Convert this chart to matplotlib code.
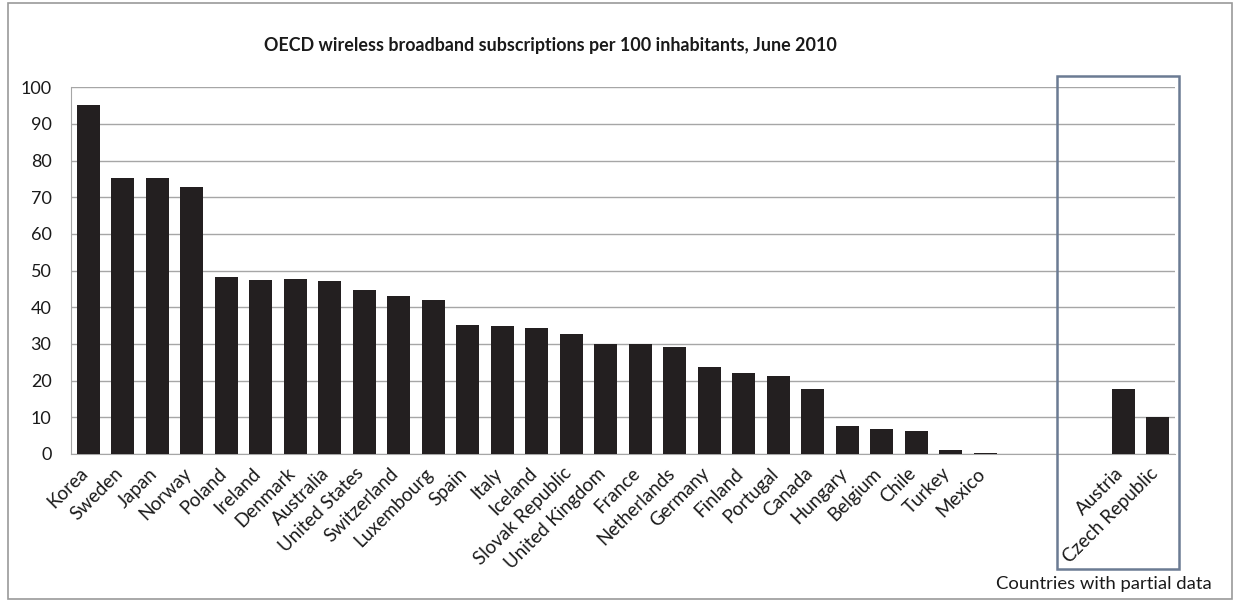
import matplotlib.pyplot as plt
from matplotlib.patches import Rectangle
from matplotlib.transforms import ScaledTranslation

plt.rcParams['font.family'] = ['Lato', 'DejaVu Sans']

# данные (на 100 жителей, июнь 2010)
countries = ['Korea', 'Sweden', 'Japan', 'Norway', 'Poland', 'Ireland', 'Denmark',
             'Australia', 'United States', 'Switzerland', 'Luxembourg', 'Spain',
             'Italy', 'Iceland', 'Slovak Republic', 'United Kingdom', 'France',
             'Netherlands', 'Germany', 'Finland', 'Portugal', 'Canada', 'Hungary',
             'Belgium', 'Chile', 'Turkey', 'Mexico']
values = [95.3, 75.3, 75.3, 72.9, 48.4, 47.5, 47.8, 47.2, 44.6, 43.2, 42.1, 35.3,
          34.8, 34.3, 32.8, 29.9, 29.9, 29.1, 23.8, 22.2, 21.3, 17.6, 7.6,
          6.8, 6.3, 1.1, 0.3]
partial = ['Austria', 'Czech Republic']
partial_values = [17.6, 10.0]
yticks = list(range(0, 101, 10))

W, H = 1238, 603
fig = plt.figure(figsize=(W / 100, H / 100), dpi=100)
ax = fig.add_axes([71 / W, 1 - 454 / H, (1175 - 71) / W, (454 - 87.3) / H])

n_gap = 3
x_main = list(range(len(countries)))
x_part = [len(countries) + n_gap + i for i in range(len(partial))]

bar_color = '#231f20'
ax.bar(x_main, values, width=0.67, color=bar_color, zorder=3)
ax.bar(x_part, partial_values, width=0.67, color=bar_color, zorder=3)

ax.set_xlim(-0.5, x_part[-1] + 0.5)
ax.set_ylim(0, 100)
ax.set_yticks(yticks)
ax.yaxis.grid(True, color='#a6a6a6', linewidth=1)
ax.set_axisbelow(True)
for s in ['top', 'right']:
    ax.spines[s].set_visible(False)
ax.spines['bottom'].set_color('#a6a6a6')
ax.spines['left'].set_color('#a6a6a6')
ax.tick_params(axis='y', length=0, pad=14, labelsize=13, labelcolor='#1a1a1a')
ax.tick_params(axis='x', length=0, pad=12, labelsize=13.5, labelcolor='#1a1a1a')

ax.set_xticks(x_main + x_part)
ax.set_xticklabels(countries + partial, rotation=45, ha='right', va='center',
                   rotation_mode='anchor')
shift = ScaledTranslation(-3 / 100, 0, fig.dpi_scale_trans)
for lbl in ax.get_xticklabels():
    lbl.set_transform(lbl.get_transform() + shift)

fig.text(550 / W, 1 - 45.5 / H,
         'OECD wireless broadband subscriptions per 100 inhabitants, June 2010',
         ha='center', va='center', fontsize=12.9, fontweight='bold', color='#1a1a1a')
fig.text(1212 / W, 1 - 584 / H, 'Countries with partial data',
         ha='right', va='center', fontsize=13.3, color='#1a1a1a')

# рамка вокруг всего графика
fig.add_artist(Rectangle((8 / W, 1 - 599 / H), (1232 - 8) / W, (599 - 3) / H,
                         transform=fig.transFigure, fill=False,
                         edgecolor='#9a9a9a', linewidth=1.2))
# рамка для стран с неполными данными
fig.add_artist(Rectangle((1057 / W, 1 - 569 / H), (1179 - 1057) / W, (569 - 76) / H,
                         transform=fig.transFigure, fill=False,
                         edgecolor='#6b7b93', linewidth=1.8, zorder=5))

plt.savefig('out.png', dpi=100)
